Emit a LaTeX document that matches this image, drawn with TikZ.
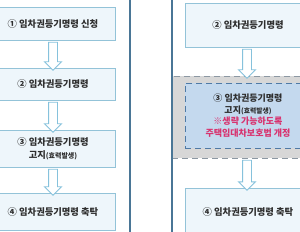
\documentclass[tikz,border=0pt]{standalone}
\usepackage{fontspec}
\setmainfont{Noto Sans CJK KR}
\usetikzlibrary{shapes.arrows}
\definecolor{panelline}{HTML}{4A7696}
\definecolor{boxline}{HTML}{93C3D8}
\definecolor{boxfill}{HTML}{EEF6FB}
\definecolor{arrowline}{HTML}{86C2DC}
\definecolor{zonefill}{HTML}{D7D7D7}
\definecolor{zoneline}{HTML}{8C98A3}
\definecolor{infill}{HTML}{C4D9EE}
\definecolor{inline}{HTML}{4F7AA6}
\definecolor{redtxt}{HTML}{D8336F}
\definecolor{txt}{HTML}{2E2E2E}
\begin{document}
\begin{tikzpicture}[x=1pt,y=-1pt,font=\bfseries\fontsize{9.3}{13.5}\selectfont,text=txt,box/.style={draw=boxline, fill=boxfill, line width=0.8pt, minimum width=124, align=center, inner sep=0pt},blk/.style={single arrow, shape border rotate=270, draw=arrowline, fill=white, line width=0.9pt, single arrow head extend=4pt, single arrow head indent=0pt, inner sep=4pt, minimum height=#1},panel/.style={draw=panelline, line width=1.2pt}]
\useasboundingbox (0,0) rectangle (300,231);
% left column
\node[box, minimum height=33] (l1) at (53,23.5) {① 임차권등기명령 신청};\node[box, minimum height=32] (l2) at (53,84) {② 임차권등기명령};
\node[box, minimum height=37] (l3) at (53,148.5) {③ 임차권등기명령\\고지{\fontsize{7}{9}\selectfont(효력발생)}};\node[box, minimum height=37] (l4) at (53,211.5) {④ 임차권등기명령 축탁};
\path (l1.south) -- node[blk=28]{} (l2.north);\path (l2.south) -- node[blk=30]{} (l3.north);\path (l3.south) -- node[blk=26]{} (l4.north);
% right column
\node[box, minimum width=126, minimum height=44] (r2) at (248,25) {② 임차권등기명령};
\node[fill=zonefill, draw=zoneline, dashed, dash pattern=on 6pt off 4pt, line width=0.9pt, minimum width=148, minimum height=82, inner sep=0pt] (zone) at (246,117) {};
\node[fill=infill, draw=inline, dash pattern=on 6pt off 4pt, line width=0.9pt, minimum width=126, minimum height=65, align=center, inner sep=0pt, font=\bfseries\fontsize{9}{11.5}\selectfont] (r3) at (248,115.5) {③ 임차권등기명령\\고지{\fontsize{6.8}{8}\selectfont(효력발생)}\\{\color{redtxt}※생략 가능하도록}\\{\color{redtxt}주택임대차보호법 개정}};
\node[box, minimum width=126, minimum height=48] (r4) at (248,212) {④ 임차권등기명령 축탁};
\path (r2.south) -- node[blk=29]{} (zone.north);\path (zone.south) -- node[blk=30]{} (r4.north);
% panel borders
\draw[panel] (130,-5) -- (130,236);\draw[panel] (172,-5) -- (172,236);
\end{tikzpicture}
\end{document}
